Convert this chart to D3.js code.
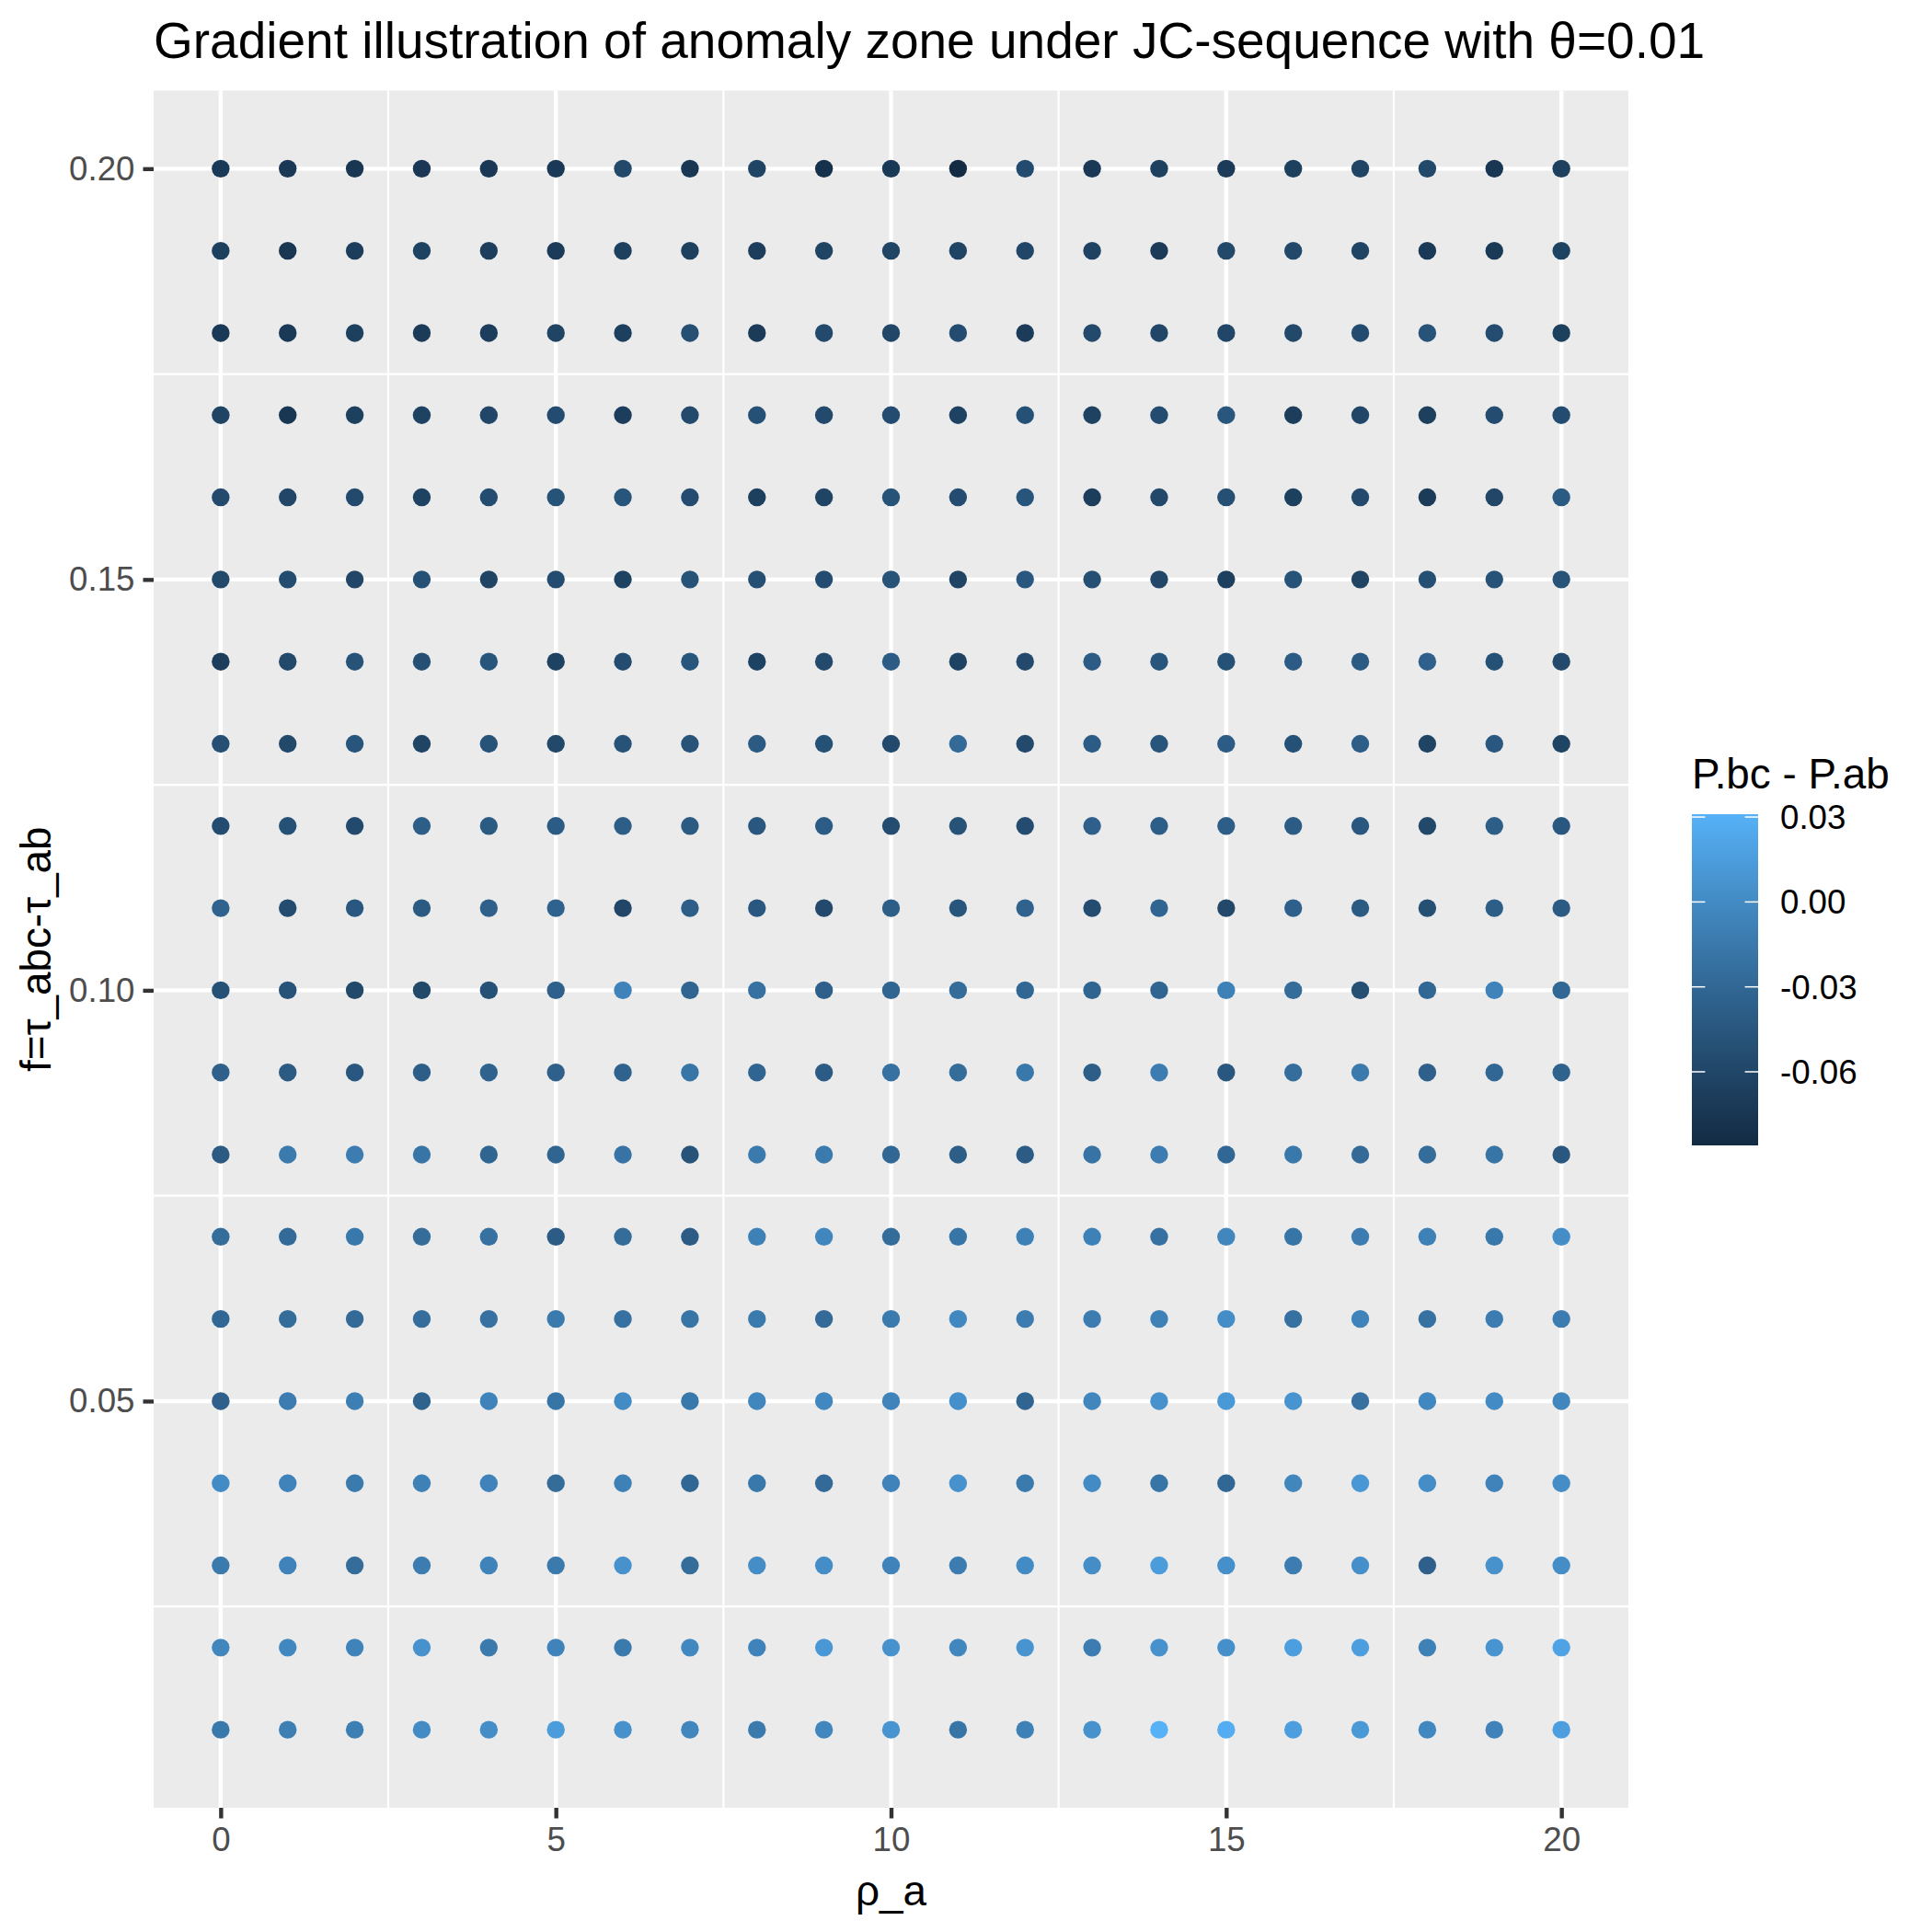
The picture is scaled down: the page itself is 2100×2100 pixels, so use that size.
<!DOCTYPE html>
<html>
<head>
<meta charset="utf-8">
<script src="https://cdn.jsdelivr.net/npm/d3@7"></script>
<style>
  body { margin: 0; background: #fff; }
  text { font-family: "Liberation Sans", Arial, Helvetica, sans-serif; }
</style>
</head>
<body>
<div id="chart"></div>
<script>
// x: rho_a, y: f = tau_abc - tau_ab
const rhoA = [0, 1, 2, 3, 4, 5, 6, 7, 8, 9, 10, 11, 12, 13, 14, 15, 16, 17, 18, 19, 20];
const fVals = [0.20, 0.19, 0.18, 0.17, 0.16, 0.15, 0.14, 0.13, 0.12, 0.11,
               0.10, 0.09, 0.08, 0.07, 0.06, 0.05, 0.04, 0.03, 0.02, 0.01];

// P.bc - P.ab, one array per f row (rho_a = 0..20)
const diff020 = [-0.072,-0.072,-0.074,-0.073,-0.073,-0.072,-0.058,-0.074,-0.062,-0.080,-0.072,-0.086,-0.055,-0.072,-0.065,-0.070,-0.066,-0.062,-0.058,-0.074,-0.066];
const diff019 = [-0.066,-0.074,-0.068,-0.064,-0.068,-0.070,-0.066,-0.066,-0.068,-0.062,-0.062,-0.062,-0.060,-0.064,-0.070,-0.058,-0.058,-0.062,-0.072,-0.072,-0.064];
const diff018 = [-0.072,-0.072,-0.066,-0.070,-0.068,-0.062,-0.066,-0.052,-0.070,-0.056,-0.060,-0.054,-0.070,-0.056,-0.060,-0.060,-0.058,-0.055,-0.048,-0.054,-0.066];
const diff017 = [-0.062,-0.074,-0.066,-0.064,-0.060,-0.054,-0.068,-0.056,-0.050,-0.056,-0.054,-0.064,-0.050,-0.064,-0.054,-0.045,-0.068,-0.060,-0.066,-0.054,-0.054];
const diff016 = [-0.056,-0.060,-0.056,-0.064,-0.054,-0.048,-0.046,-0.054,-0.066,-0.062,-0.048,-0.054,-0.046,-0.068,-0.058,-0.052,-0.066,-0.056,-0.070,-0.060,-0.042];
const diff015 = [-0.058,-0.054,-0.060,-0.050,-0.062,-0.054,-0.064,-0.048,-0.052,-0.054,-0.048,-0.062,-0.044,-0.052,-0.060,-0.066,-0.048,-0.062,-0.052,-0.048,-0.048];
const diff014 = [-0.068,-0.058,-0.048,-0.052,-0.046,-0.064,-0.054,-0.046,-0.064,-0.056,-0.040,-0.064,-0.056,-0.040,-0.046,-0.050,-0.040,-0.042,-0.036,-0.050,-0.056];
const diff013 = [-0.052,-0.058,-0.046,-0.062,-0.048,-0.058,-0.048,-0.048,-0.042,-0.050,-0.056,-0.028,-0.056,-0.040,-0.046,-0.040,-0.050,-0.038,-0.062,-0.044,-0.062];
const diff012 = [-0.054,-0.050,-0.056,-0.038,-0.042,-0.040,-0.038,-0.042,-0.044,-0.040,-0.054,-0.048,-0.054,-0.036,-0.038,-0.038,-0.040,-0.044,-0.058,-0.038,-0.044];
const diff011 = [-0.034,-0.054,-0.044,-0.042,-0.036,-0.034,-0.060,-0.038,-0.044,-0.056,-0.038,-0.046,-0.034,-0.054,-0.032,-0.058,-0.036,-0.042,-0.052,-0.038,-0.042];
const diff010 = [-0.050,-0.048,-0.058,-0.058,-0.050,-0.036,-0.006,-0.032,-0.022,-0.036,-0.032,-0.026,-0.030,-0.032,-0.032,-0.008,-0.026,-0.052,-0.030,-0.006,-0.030];
const diff009 = [-0.036,-0.042,-0.044,-0.038,-0.034,-0.036,-0.034,-0.018,-0.032,-0.040,-0.022,-0.026,-0.016,-0.038,-0.012,-0.044,-0.024,-0.014,-0.036,-0.030,-0.034];
const diff008 = [-0.042,-0.014,-0.012,-0.018,-0.032,-0.032,-0.020,-0.048,-0.014,-0.014,-0.030,-0.038,-0.040,-0.020,-0.012,-0.030,-0.016,-0.028,-0.026,-0.018,-0.044];
const diff007 = [-0.026,-0.028,-0.016,-0.026,-0.022,-0.040,-0.026,-0.040,-0.008,-0.004,-0.026,-0.018,-0.008,-0.008,-0.022,-0.004,-0.018,-0.012,-0.008,-0.016, 0.002];
const diff006 = [-0.030,-0.026,-0.028,-0.024,-0.022,-0.014,-0.022,-0.018,-0.014,-0.028,-0.014,-0.002,-0.012,-0.012,-0.008, 0.002,-0.022,-0.006,-0.022,-0.012,-0.012];
const diff005 = [-0.036,-0.012,-0.010,-0.034,-0.006,-0.018, 0.000,-0.016,-0.004,-0.002,-0.006, 0.004,-0.032,-0.004, 0.006, 0.012, 0.008,-0.022,-0.002, 0.000,-0.004];
const diff004 = [ 0.000,-0.006,-0.014,-0.008,-0.006,-0.026,-0.008,-0.030,-0.016,-0.028,-0.006, 0.006,-0.014, 0.000,-0.018,-0.030,-0.004, 0.010, 0.002,-0.006, 0.002];
const diff003 = [-0.014,-0.006,-0.026,-0.012,-0.006,-0.014, 0.006,-0.026, 0.002, 0.002,-0.006,-0.012, 0.000, 0.002, 0.014, 0.004,-0.012, 0.004,-0.036, 0.006, 0.002];
const diff002 = [-0.004,-0.002,-0.006, 0.006,-0.014,-0.006,-0.014,-0.002,-0.006, 0.010, 0.006,-0.004, 0.008,-0.012, 0.006, 0.004, 0.016, 0.016,-0.008, 0.008, 0.020];
const diff001 = [-0.016,-0.010,-0.010, 0.000, 0.002, 0.014, 0.006,-0.004,-0.014,-0.004, 0.008,-0.018,-0.008, 0.006, 0.031, 0.028, 0.016, 0.012,-0.002,-0.006, 0.016];

const diffRows = [diff020, diff019, diff018, diff017, diff016, diff015, diff014, diff013, diff012, diff011,
                  diff010, diff009, diff008, diff007, diff006, diff005, diff004, diff003, diff002, diff001];

const xTicks = [0, 5, 10, 15, 20];
const xMinor = [2.5, 7.5, 12.5, 17.5];
const yTicks = [0.05, 0.10, 0.15, 0.20];
const yMinor = [0.025, 0.075, 0.125, 0.175];
const legendTicks = [0.03, 0.00, -0.03, -0.06];

// flatten into points
const points = [];
fVals.forEach((f, i) => {
    rhoA.forEach((r, j) => points.push({ x: r, y: f, v: diffRows[i][j] }));
});

const W = 2100, H = 2100;
const panel = { left: 167, right: 1770, top: 98.5, bottom: 1965 };

const svg = d3.select('#chart')
    .append('svg')
    .attr('width', W)
    .attr('height', H);

svg.append('rect').attr('width', W).attr('height', H).attr('fill', '#fff');

// scales (ggplot default 5% expansion)
const xExp = (20 - 0) * 0.05;
const yExp = (0.20 - 0.01) * 0.05;
const xScale = d3.scaleLinear()
    .domain([0 - xExp, 20 + xExp])
    .range([panel.left, panel.right]);
const yScale = d3.scaleLinear()
    .domain([0.01 - yExp, 0.20 + yExp])
    .range([panel.bottom, panel.top]);

const vExtent = d3.extent(points, d => d.v);
const color = d3.scaleLinear()
    .domain(vExtent)
    .range(['#132B43', '#56B1F7'])
    .interpolate(d3.interpolateLab);

// panel background + grid
svg.append('rect')
    .attr('x', panel.left).attr('y', panel.top)
    .attr('width', panel.right - panel.left)
    .attr('height', panel.bottom - panel.top)
    .attr('fill', '#EBEBEB');

const grid = svg.append('g');
grid.selectAll('.xminor').data(xMinor).join('line')
    .attr('x1', d => xScale(d)).attr('x2', d => xScale(d))
    .attr('y1', panel.top).attr('y2', panel.bottom)
    .attr('stroke', '#fff').attr('stroke-width', 2.2);
grid.selectAll('.yminor').data(yMinor).join('line')
    .attr('y1', d => yScale(d)).attr('y2', d => yScale(d))
    .attr('x1', panel.left).attr('x2', panel.right)
    .attr('stroke', '#fff').attr('stroke-width', 2.2);
grid.selectAll('.xmajor').data(xTicks).join('line')
    .attr('x1', d => xScale(d)).attr('x2', d => xScale(d))
    .attr('y1', panel.top).attr('y2', panel.bottom)
    .attr('stroke', '#fff').attr('stroke-width', 4.4);
grid.selectAll('.ymajor').data(yTicks).join('line')
    .attr('y1', d => yScale(d)).attr('y2', d => yScale(d))
    .attr('x1', panel.left).attr('x2', panel.right)
    .attr('stroke', '#fff').attr('stroke-width', 4.4);

// points
svg.append('g')
    .selectAll('circle')
    .data(points)
    .join('circle')
    .attr('cx', d => xScale(d.x))
    .attr('cy', d => yScale(d.y))
    .attr('r', 9.7)
    .attr('fill', d => color(d.v));

// axes
const xAxis = d3.axisBottom(xScale).tickValues(xTicks).tickFormat(d3.format('d'))
    .tickSizeInner(11.5).tickSizeOuter(0).tickPadding(9);
const yAxis = d3.axisLeft(yScale).tickValues(yTicks).tickFormat(d3.format('.2f'))
    .tickSizeInner(11.5).tickSizeOuter(0).tickPadding(9);

svg.append('g')
    .attr('class', 'x-axis')
    .attr('transform', `translate(0, ${panel.bottom})`)
    .call(xAxis);
svg.append('g')
    .attr('class', 'y-axis')
    .attr('transform', `translate(${panel.left}, 0)`)
    .call(yAxis);

svg.selectAll('.domain').remove();
svg.selectAll('.tick line')
    .style('stroke', '#333333')
    .style('stroke-width', '4.4px');
svg.selectAll('.x-axis text, .y-axis text')
    .style('font-family', '"Liberation Sans", Arial, sans-serif')
    .style('font-size', '36.7px')
    .style('fill', '#4D4D4D');

// titles
svg.append('text')
    .attr('x', panel.left)
    .attr('y', 63)
    .attr('font-size', 55)
    .attr('fill', '#000')
    .text('Gradient illustration of anomaly zone under JC-sequence with θ=0.01');

svg.append('text')
    .attr('x', (panel.left + panel.right) / 2)
    .attr('y', 2071)
    .attr('text-anchor', 'middle')
    .attr('font-size', 45.8)
    .attr('fill', '#000')
    .text('ρ_a');

svg.append('text')
    .attr('transform', `translate(55, ${(panel.top + panel.bottom) / 2}) rotate(-90)`)
    .attr('text-anchor', 'middle')
    .attr('font-size', 45.8)
    .attr('fill', '#000')
    .text('f=τ_abc-τ_ab');

// legend (colour bar)
const bar = { x: 1839, y: 885, w: 72, h: 360 };
const legY = d3.scaleLinear().domain(vExtent).range([bar.y + bar.h, bar.y]);

const defs = svg.append('defs');
const grad = defs.append('linearGradient')
    .attr('id', 'cbar')
    .attr('x1', 0).attr('y1', 1).attr('x2', 0).attr('y2', 0);
d3.range(0, 1.0001, 0.05).forEach(t => {
    grad.append('stop')
        .attr('offset', t)
        .attr('stop-color', color(vExtent[0] + t * (vExtent[1] - vExtent[0])));
});

svg.append('text')
    .attr('x', bar.x)
    .attr('y', 857)
    .attr('font-size', 45.8)
    .attr('fill', '#000')
    .text('P.bc - P.ab');

svg.append('rect')
    .attr('x', bar.x).attr('y', bar.y)
    .attr('width', bar.w).attr('height', bar.h)
    .attr('fill', 'url(#cbar)');

const lt = svg.append('g');
lt.selectAll('.lt-l').data(legendTicks).join('line')
    .attr('x1', bar.x).attr('x2', bar.x + bar.w / 5)
    .attr('y1', d => legY(d)).attr('y2', d => legY(d))
    .attr('stroke', '#fff').attr('stroke-width', 1.5);
lt.selectAll('.lt-r').data(legendTicks).join('line')
    .attr('x1', bar.x + bar.w * 4 / 5).attr('x2', bar.x + bar.w)
    .attr('y1', d => legY(d)).attr('y2', d => legY(d))
    .attr('stroke', '#fff').attr('stroke-width', 1.5);
lt.selectAll('text').data(legendTicks).join('text')
    .attr('x', bar.x + bar.w + 24)
    .attr('y', d => legY(d))
    .attr('dy', '0.35em')
    .attr('font-size', 36.7)
    .attr('fill', '#000')
    .text(d => d3.format('.2f')(d).replace('\u2212', '-'));
</script>
</body>
</html>
